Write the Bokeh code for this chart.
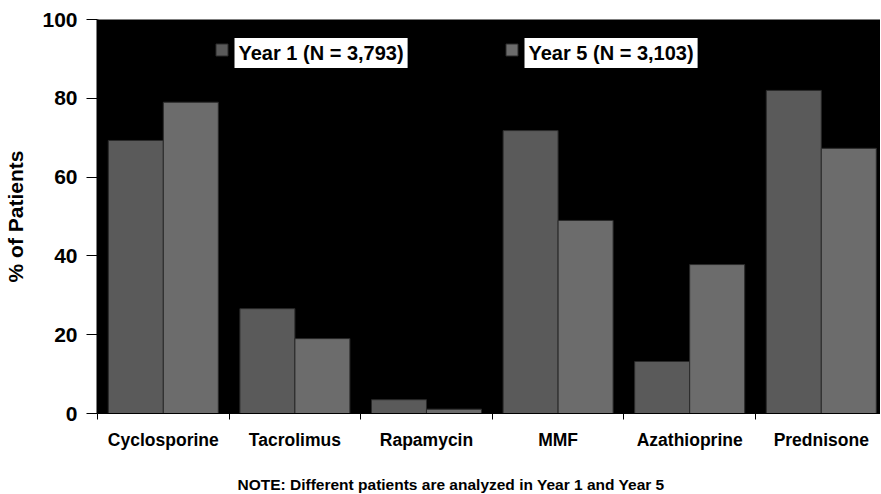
import numpy as np
from bokeh.plotting import figure
from bokeh.models import (ColumnDataSource, Range1d, FixedTicker, Legend, LegendItem,
                          Label, Title)
from bokeh.transform import dodge
from bokeh.embed import file_html
from bokeh.resources import INLINE

# ---- data ----
categories = ["Cyclosporine", "Tacrolimus", "Rapamycin", "MMF", "Azathioprine", "Prednisone"]
year1_pct = [69.3, 26.6, 3.5, 71.8, 13.2, 82.0]
year5_pct = [79.0, 19.0, 1.1, 49.0, 37.8, 67.3]
series_labels = ["Year 1 (N = 3,793)", "Year 5 (N = 3,103)"]
y_ticks = [0, 20, 40, 60, 80, 100]
note = "NOTE: Different patients are analyzed in Year 1 and Year 5"

FONT = "Liberation Sans"
C1 = "#5a5a5a"
C5 = "#6c6c6c"

centers = np.arange(len(categories)) + 0.5
src = ColumnDataSource(dict(x=centers, y1=year1_pct, y5=year5_pct, cat=categories))

p = figure(width=880, height=494, output_backend="svg", toolbar_location=None,
           x_range=Range1d(0, len(categories) - 0.05), y_range=Range1d(0, 100),
           min_border_left=97, min_border_right=0, min_border_top=19, min_border_bottom=81,
           background_fill_color="black", border_fill_color="white")
p.outline_line_color = None
p.grid.visible = False

bw = 0.418
r1 = p.vbar(x=dodge("x", -bw / 2), top="y1", width=bw, source=src,
            fill_color=C1, line_color="#2a2a2a", line_width=1)
r5 = p.vbar(x=dodge("x", bw / 2), top="y5", width=bw, source=src,
            fill_color=C5, line_color="#2a2a2a", line_width=1)

# x axis: labels at centres, tick marks at category boundaries
xa = p.xaxis[0]
xa.ticker = FixedTicker(ticks=list(centers), minor_ticks=list(range(len(categories) + 1)))
xa.major_label_overrides = {float(c): n for c, n in zip(centers, categories)}
xa.major_tick_out = 0
xa.major_tick_in = 0
xa.minor_tick_out = 6
xa.minor_tick_in = 0
xa.minor_tick_line_color = "black"
xa.axis_line_color = "black"
xa.major_label_standoff = 10
xa.major_label_text_font = FONT
xa.major_label_text_font_style = "bold"
xa.major_label_text_font_size = "17.5px"
xa.major_label_text_color = "black"

ya = p.yaxis[0]
ya.ticker = FixedTicker(ticks=y_ticks)
ya.minor_tick_line_color = None
ya.major_tick_out = 11
ya.major_tick_in = 0
ya.axis_line_color = "black"
ya.axis_line_width = 2
ya.major_label_standoff = 9
ya.major_label_text_font = FONT
ya.major_label_text_font_style = "bold"
ya.major_label_text_font_size = "21px"
ya.major_label_text_color = "black"
ya.axis_label = "% of Patients"
ya.axis_label_standoff = 12
ya.axis_label_text_font = FONT
ya.axis_label_text_font_style = "bold"
ya.axis_label_text_font_size = "21px"
ya.axis_label_text_color = "black"

# legend keys (squares) + white label boxes
for r, lab, kx, tx in [(r1, series_labels[0], 117, 137), (r5, series_labels[1], 407, 427)]:
    lg = Legend(items=[LegendItem(label="", renderers=[r])], location=(kx, 356),
                glyph_width=15, glyph_height=15, label_width=0, label_height=15,
                label_standoff=0, label_text_font_size="1px", padding=0, margin=0,
                spacing=0, background_fill_alpha=0, border_line_alpha=0)
    p.add_layout(lg, "center")
    p.add_layout(Label(x=tx, y=360.5, x_units="screen", y_units="screen", text=lab,
                       text_font=FONT, text_font_style="bold", text_font_size="20px",
                       text_color="black", text_align="left", text_baseline="middle",
                       background_fill_color="white", padding=4))

# footnote below the axis (a blank title as spacer first)
p.add_layout(Title(text=" ", text_font_size="13px", standoff=2), "below")
p.add_layout(Title(text=note, align="left", offset=140, text_font=FONT,
                   text_font_style="bold", text_font_size="15.5px", text_color="black",
                   vertical_align="bottom", standoff=4), "below")

open("out.html", "w").write(file_html(p, INLINE))
